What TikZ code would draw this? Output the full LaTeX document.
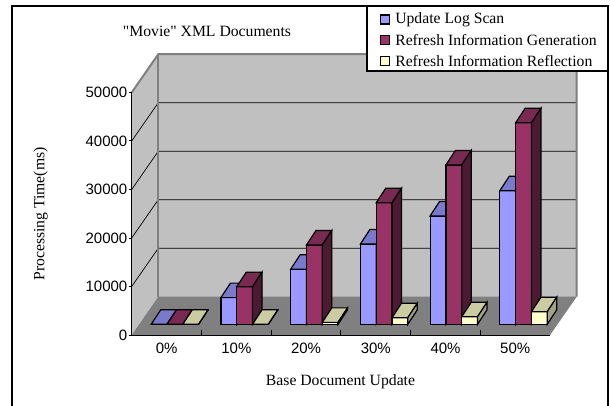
\documentclass[tikz,border=0pt]{standalone}
\usepackage{fontspec}
\setmainfont{Liberation Serif}
\newfontfamily\axisfont{Liberation Sans}
\newfontfamily\quotefont{Liberation Serif}
\usetikzlibrary{positioning}

\definecolor{scanfront}{HTML}{9999FF}
\definecolor{scantop}{HTML}{7A7ACC}
\definecolor{scanside}{HTML}{4D4D80}
\definecolor{genfront}{HTML}{993366}
\definecolor{gentop}{HTML}{7A2952}
\definecolor{genside}{HTML}{4D1A33}
\definecolor{reffront}{HTML}{FFFFCC}
\definecolor{reftop}{HTML}{CCCCA3}
\definecolor{refside}{HTML}{A3A382}
\definecolor{wallgray}{HTML}{C0C0C0}
\definecolor{floorgray}{HTML}{808080}

% one 3d bar: left x, height, colour prefix
\newcommand{\chartbar}[3]{%
  \filldraw[barline,fill=#3front] (#1,324.3) rectangle ++(15.8,-#2);
  \filldraw[barline,fill=#3top] (#1,324.3-#2) -- ++(9.5,-14.5) -- ++(15.8,0) -- ++(-9.5,14.5) -- cycle;
  \filldraw[barline,fill=#3side] (#1+15.8,324.3) -- ++(9.5,-14.5) -- ++(0,-#2) -- ++(-9.5,14.5) -- cycle;
}

\begin{document}
\begin{tikzpicture}
  [x=1pt,y=-1pt,
   every node/.style={font=\fontsize{15.7}{18}\selectfont},
   walledge/.style={draw=floorgray,line width=2pt},
   gridline/.style={draw=black,line width=0.7pt},
   barline/.style={draw=black,line width=1.2pt},
   ticklab/.style={font=\axisfont\fontsize{15}{18}\selectfont,inner sep=0pt},
   keybox/.style={draw=black,line width=1.2pt,minimum size=9pt,inner sep=0pt}]
  \useasboundingbox (0,0) rectangle (610,406);
  \draw[line width=1.5pt] (12,6) rectangle (608,420);

  % walls and floor
  \fill[wallgray] (131.7,335) -- (131.7,92.5) -- (158.3,54.2) -- (158.3,296.7) -- cycle;
  \fill[wallgray] (158.3,54.2) rectangle (576.7,296.7);
  \fill[floorgray] (131.7,335) -- (550.1,335) -- (576.7,296.7) -- (158.3,296.7) -- cycle;
  \foreach \v in {1,...,4}
    \draw[gridline] (131.7,335-48.5*\v) -- (158.3,296.7-48.5*\v) -- (576.7,296.7-48.5*\v);
  \draw[walledge] (131.7,92.5) -- (158.3,54.2) -- (576.7,54.2) -- (576.7,296.7);
  \draw[walledge] (158.3,54.2) -- (158.3,296.7);

  % axes
  \draw[line width=1pt] (131.7,92.5) -- (131.7,335) -- (550.1,335);
  \foreach \v/\ms in {0/0,1/10000,2/20000,3/30000,4/40000,5/50000} {
    \draw[line width=1pt] (128.7,335-48.5*\v) -- (131.7,335-48.5*\v);
    \node[ticklab,anchor=east] (y\v) at (127.5,335-48.5*\v) {\ms};
  }
  \foreach \i in {1,...,5}
    \draw[line width=0.8pt] (131.7+69.73*\i,335) -- (131.7+69.73*\i,330);
  \foreach \i/\pc in {0/0\%,1/10\%,2/20\%,3/30\%,4/40\%,5/50\%}
    \node[ticklab] (c\i) at (131.7+69.73*\i+34.9,348) {\pc};

  % bars, values in 1000 ms
  \foreach \i/\scan/\gen/\refl in {0/0/0/0,1/5.5/7.75/0,2/11.35/16.35/0.4,
      3/16.55/25.05/1.35,4/22.35/32.85/1.55,5/27.55/41.55/2.6} {
    \pgfmathsetmacro{\bx}{131.7+69.73*\i+19.5}
    \chartbar{\bx}{4.85*\scan}{scan}
    \chartbar{\bx+15.8}{4.85*\gen}{gen}
    \chartbar{\bx+31.6}{4.85*\refl}{ref}
  }

  % titles
  \node (title) at (207,31) {{\quotefont"}Movie{\quotefont"} XML Documents};
  \node[rotate=90] (ylab) at (40.5,214) {Processing Time(ms)};
  \node (xlab) at (340.5,381.7) {Base Document Update};

  % legend
  \draw[fill=white,line width=1.2pt] (367,6) rectangle (608,71);
  \node[keybox,fill=scanfront] (k1) at (385,19.5) {};
  \node[keybox,fill=genfront] (k2) at (385,40.2) {};
  \node[keybox,fill=reffront] (k3) at (385,60.8) {};
  \node[right=5pt of k1,inner sep=0pt] (l1) {Update Log Scan};
  \node[right=5pt of k2,inner sep=0pt] (l2) {Refresh Information Generation};
  \node[right=5pt of k3,inner sep=0pt] (l3) {Refresh Information Reflection};
\end{tikzpicture}
\end{document}
